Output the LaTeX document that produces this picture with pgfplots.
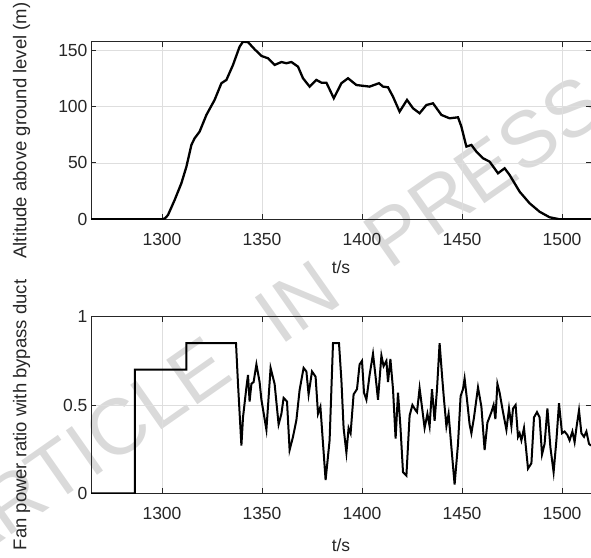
\documentclass[border=0pt]{standalone}
\usepackage{fontspec}
\setmainfont{Liberation Sans}
\newfontfamily\wmfont[WordSpace=2.5]{Liberation Sans}
\usepackage{pgfplots}
\pgfplotsset{compat=1.18}
\definecolor{gridc}{RGB}{222,222,222}
\definecolor{axc}{RGB}{38,38,38}
\definecolor{wm}{RGB}{218,218,218}

\begin{document}
\begin{tikzpicture}
\useasboundingbox (0pt,0pt) rectangle (591pt,557pt);
\node[rotate=35, text=wm, font=\wmfont\fontsize{79}{79}\selectfont, inner sep=0pt, anchor=base west] at (-37pt,-12pt) {ARTICLE IN PRESS};
\pgfplotsset{
  myax/.style={
    scale only axis, width=500pt, xmin=1264.5, xmax=1514.5,
    xtick={1300,1350,1400,1450,1500},
    grid=major, major grid style={gridc, line width=0.7pt},
    axis line style={axc, line width=0.8pt},
    tick style={axc, line width=0.8pt},
    major tick length=5pt, tick align=inside,
    /pgf/number format/assume math mode=true,
    /pgf/number format/1000 sep={},
    ticklabel style={font=\fontsize{17.5}{20}\selectfont, text=axc},
    xticklabel style={yshift=-10pt},
    xlabel={t/s},
    xlabel style={at={(axis description cs:0.5,0)}, anchor=center, font=\fontsize{17.5}{20}\selectfont, text=axc},
    ylabel style={at={(axis description cs:0,0.5)}, anchor=center, yshift=69.5pt, text=axc, font=\fontsize{18.5}{21}\selectfont},
  }
}
\begin{axis}[myax, at={(91pt,337.7pt)}, anchor=south west, height=177.6pt,
  ymin=0, ymax=157.4, ytick={0,50,100,150},
  xlabel style={yshift=-48pt},
  ylabel={Altitude above ground level (m)}]
\addplot[black, line width=2.3pt] coordinates {
(1264.5,0) (1300,0) (1301.5,0.8) (1303,3.8) (1306.3,17) (1309.7,32) (1312.2,46.6)
(1314.7,65.9) (1316.3,71.8) (1318.8,77.7) (1322.2,92.5) (1326.3,105.8) (1329.7,120.6)
(1332.2,123.5) (1335.5,136.8) (1338.8,153) (1340.5,157.4) (1343,157) (1346.3,150.7)
(1349.7,144.8) (1353,142.7) (1356.3,136.8) (1359.7,139.4) (1362.2,138.3) (1364.7,139.4)
(1368,135.3) (1370.5,125) (1373.8,117.6) (1377.2,123.5) (1379.7,121.1) (1382.2,121.1)
(1385.9,107.3) (1389.7,120.6) (1393,125) (1397.2,119) (1403.8,117.6) (1408.5,120.6)
(1410.5,117.6) (1413,117) (1415.5,108.7) (1418.8,95.4) (1422.5,105.8) (1425.5,98.4)
(1428.8,94) (1432.2,101.3) (1435.5,102.8) (1439.7,92.5) (1443.8,89.5) (1448,90.4)
(1449.7,82.1) (1452.2,64.4) (1454.7,65.9) (1457.2,59.9) (1460.5,54.1) (1463.8,51.1)
(1468,40.8) (1471.3,45.2) (1473.8,39.3) (1478.8,24.5) (1483.8,14.2) (1488.8,6.7)
(1493.8,1.8) (1498.8,0) (1515,0)
};
\end{axis}
\begin{axis}[myax, at={(91pt,63.7pt)}, anchor=south west, height=176.6pt,
  ymin=0, ymax=1, ytick={0,0.5,1},
  xlabel style={yshift=-52pt},
  ylabel style={xshift=-10pt},
  ylabel={Fan power ratio with bypass duct}]
\addplot[black, line width=2pt] coordinates {
(1264.5,0) (1286.4,0) (1286.4,0.7) (1312.2,0.7) (1312.2,0.85) (1337,0.85)
(1338,0.62) (1339.7,0.27) (1340.5,0.43) (1342.2,0.60) (1343,0.67) (1343.8,0.52)
(1344.7,0.62) (1345.8,0.63) (1347.2,0.73) (1348.8,0.63) (1349.7,0.53) (1352.2,0.36)
(1354.3,0.71) (1356.3,0.62) (1358.3,0.39) (1359.7,0.45) (1360.8,0.54) (1362.5,0.52)
(1363.8,0.245) (1365.5,0.32) (1367.2,0.415) (1368.8,0.585) (1370.8,0.71) (1372.2,0.69)
(1373.3,0.56) (1375,0.69) (1376.8,0.66) (1378,0.45) (1379.2,0.49) (1381.8,0.075)
(1383.8,0.30) (1385.5,0.85) (1388.5,0.85) (1389.7,0.64) (1390.8,0.37) (1392.2,0.23)
(1393.3,0.37) (1394.3,0.34) (1395.8,0.56) (1397.5,0.59) (1398.8,0.73) (1400,0.75)
(1401,0.57) (1402.2,0.53) (1403.8,0.67) (1405.5,0.79) (1406.7,0.67) (1408,0.53)
(1409.7,0.78) (1410.8,0.72) (1412.2,0.75) (1413,0.63) (1414.2,0.76) (1415.5,0.59)
(1416.8,0.31) (1418,0.57) (1419.2,0.38) (1420.5,0.12) (1422.2,0.10) (1423.8,0.44)
(1425.2,0.50) (1426.8,0.47) (1427.5,0.46) (1428.8,0.595) (1430.2,0.47) (1431.3,0.37)
(1432.7,0.45) (1433.8,0.38) (1435,0.59) (1436.3,0.41) (1437.5,0.59) (1438.8,0.85)
(1440.2,0.64) (1441,0.53) (1442.2,0.38) (1443.3,0.45) (1444.7,0.26) (1446.3,0.05)
(1448,0.28) (1449.3,0.55) (1450.5,0.59) (1451.3,0.65) (1452.5,0.53) (1453.8,0.39)
(1454.7,0.34) (1456,0.43) (1458,0.60) (1459.7,0.49) (1461.3,0.245) (1462.7,0.40)
(1464.7,0.46) (1465.8,0.50) (1466.7,0.42) (1467.7,0.62) (1468.8,0.57) (1470.5,0.46)
(1472.2,0.36) (1473.5,0.48) (1474.7,0.38) (1475.5,0.48) (1476.8,0.50) (1478,0.32)
(1478.8,0.34) (1479.7,0.30) (1481,0.37) (1483,0.14) (1484.7,0.17) (1486,0.43)
(1487.5,0.46) (1488.8,0.43) (1490,0.22) (1491.3,0.28) (1492.7,0.48) (1494.2,0.26)
(1495.8,0.12) (1497.2,0.30) (1498.5,0.51) (1500,0.34) (1501.3,0.35) (1502.7,0.33)
(1503.8,0.30) (1505.2,0.35) (1506.3,0.29) (1507.2,0.37) (1508.5,0.47) (1509.7,0.34)
(1511,0.32) (1512.2,0.35) (1513.5,0.28) (1514.5,0.27)
};
\end{axis}
\end{tikzpicture}
\end{document}
